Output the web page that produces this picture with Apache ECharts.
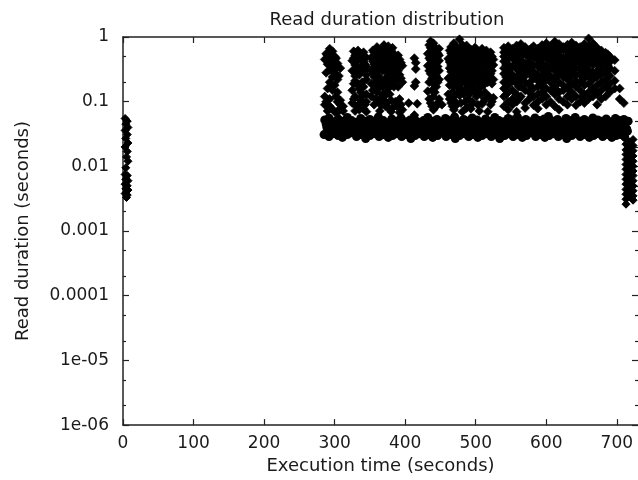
<!DOCTYPE html>
<html>
<head>
<meta charset="utf-8">
<script src="https://cdn.jsdelivr.net/npm/echarts@6/dist/echarts.min.js"></script>
<style>html,body{margin:0;padding:0;background:#fff}#c{width:638px;height:480px}</style>
</head>
<body>
<div id="c"></div>
<script>
// ---- data ----
var titleText = 'Read duration distribution';
var xName = 'Execution time (seconds)';
var yName = 'Read duration (seconds)';
var xTicks = [0, 100, 200, 300, 400, 500, 600, 700];
var yTicks = [1e-6, 1e-5, 1e-4, 1e-3, 1e-2, 1e-1, 1];
var yTickLabels = ['1e-06', '1e-05', '0.0001', '0.001', '0.01', '0.1', '1'];
var yMinorTicks = [2e-6, 5e-6, 2e-5, 5e-5, 2e-4, 5e-4, 2e-3, 5e-3, 2e-2, 5e-2, 0.2, 0.5];

// early strip near t = 0
var leftStrip = [[3,0.055],[6,0.05],[4,0.045],[7,0.04],[3,0.036],[6,0.031],[4,0.027],[7,0.023],[3,0.02],[6,0.017],[5,0.014],[7,0.012],[4,0.0095],[3,0.0075],[6,0.0072],[4,0.0063],[7,0.006],[3,0.0053],[6,0.005],[4,0.0045],[7,0.0043],[3,0.0038],[6,0.0036],[5,0.0033]];

// dense band around 0.03 - 0.06 s
var bandRow1 = [[286,0.052],[292,0.056],[299,0.049],[305,0.054],[311,0.05],[318,0.057],[324,0.051],[330,0.048],[337,0.055],[343,0.05],[350,0.053],[356,0.049],[362,0.058],[369,0.051],[375,0.047],[381,0.054],[388,0.05],[394,0.056],[400,0.049],[407,0.052],[413,0.055],[419,0.048],[426,0.051],[432,0.057],[438,0.05],[445,0.053],[451,0.048],[457,0.055],[464,0.051],[470,0.058],[476,0.049],[483,0.053],[489,0.05],[495,0.056],[502,0.052],[508,0.048],[514,0.054],[521,0.05],[527,0.057],[533,0.051],[540,0.049],[546,0.055],[552,0.052],[559,0.058],[565,0.05],[571,0.053],[578,0.049],[584,0.056],[590,0.051],[597,0.054],[603,0.059],[609,0.05],[616,0.053],[622,0.048],[628,0.055],[635,0.051],[641,0.057],[647,0.05],[654,0.053],[660,0.049],[666,0.056],[673,0.052],[679,0.05],[685,0.054],[692,0.049],[698,0.055],[704,0.051],[710,0.053],[716,0.05]];
var bandRow2 = [[289,0.04],[296,0.038],[302,0.041],[308,0.039],[315,0.042],[321,0.038],[327,0.04],[334,0.037],[340,0.041],[347,0.039],[353,0.04],[359,0.038],[366,0.042],[372,0.039],[378,0.04],[385,0.037],[391,0.041],[397,0.039],[404,0.04],[410,0.038],[416,0.042],[423,0.039],[429,0.04],[435,0.038],[442,0.041],[448,0.039],[454,0.04],[461,0.037],[467,0.041],[473,0.039],[480,0.04],[486,0.038],[492,0.042],[499,0.039],[505,0.04],[511,0.038],[518,0.041],[524,0.039],[530,0.04],[537,0.037],[543,0.041],[549,0.039],[556,0.04],[562,0.038],[568,0.042],[575,0.039],[581,0.04],[587,0.038],[594,0.041],[600,0.039],[606,0.04],[613,0.037],[619,0.041],[625,0.039],[632,0.04],[638,0.038],[644,0.042],[651,0.039],[657,0.04],[663,0.038],[670,0.041],[676,0.039],[682,0.04],[689,0.038],[695,0.041],[701,0.039],[708,0.04],[714,0.038]];
var bandRow3 = [[285,0.031],[292,0.029],[298,0.032],[305,0.03],[311,0.028],[318,0.031],[324,0.033],[331,0.029],[337,0.031],[344,0.027],[350,0.03],[357,0.032],[363,0.029],[369,0.031],[376,0.028],[382,0.03],[388,0.032],[395,0.029],[401,0.031],[408,0.027],[414,0.03],[420,0.032],[427,0.029],[433,0.031],[439,0.028],[446,0.03],[452,0.033],[458,0.029],[465,0.031],[471,0.027],[477,0.03],[484,0.032],[490,0.029],[496,0.031],[503,0.028],[509,0.03],[515,0.032],[522,0.029],[528,0.031],[534,0.027],[541,0.03],[547,0.032],[553,0.029],[560,0.031],[566,0.028],[572,0.03],[579,0.033],[585,0.029],[591,0.031],[598,0.028],[604,0.03],[610,0.032],[617,0.029],[623,0.031],[629,0.027],[636,0.03],[642,0.032],[648,0.029],[655,0.031],[661,0.028],[667,0.03],[674,0.032],[680,0.029],[686,0.031],[693,0.028],[699,0.03],[705,0.031],[711,0.029]];
var bandRow4 = [[288,0.045],[297,0.046],[306,0.044],[315,0.045],[324,0.046],[333,0.044],[342,0.045],[351,0.046],[360,0.044],[369,0.045],[378,0.046],[387,0.044],[396,0.045],[405,0.046],[414,0.044],[423,0.045],[432,0.046],[441,0.044],[450,0.045],[459,0.046],[468,0.044],[477,0.045],[486,0.046],[495,0.044],[504,0.045],[513,0.046],[522,0.044],[531,0.045],[540,0.046],[549,0.044],[558,0.045],[567,0.046],[576,0.044],[585,0.045],[594,0.046],[603,0.044],[612,0.045],[621,0.046],[630,0.044],[639,0.045],[648,0.046],[657,0.044],[666,0.045],[675,0.046],[684,0.044],[693,0.045],[702,0.046],[711,0.044]];
var bandRow5 = [[292,0.035],[301,0.034],[310,0.036],[319,0.035],[328,0.034],[337,0.036],[346,0.035],[355,0.034],[364,0.036],[373,0.035],[382,0.034],[391,0.036],[400,0.035],[409,0.034],[418,0.036],[427,0.035],[436,0.034],[445,0.036],[454,0.035],[463,0.034],[472,0.036],[481,0.035],[490,0.034],[499,0.036],[508,0.035],[517,0.034],[526,0.036],[535,0.035],[544,0.034],[553,0.036],[562,0.035],[571,0.034],[580,0.036],[589,0.035],[598,0.034],[607,0.036],[616,0.035],[625,0.034],[634,0.036],[643,0.035],[652,0.034],[661,0.036],[670,0.035],[679,0.034],[688,0.036],[697,0.035],[706,0.034],[715,0.035]];

// sparser reads above the band, by column: [time, [durations]]
var upperCols = [
 [286,[0.45,0.12,0.09]],[288,[0.55,0.28,0.1]],[290,[0.52,0.38,0.16,0.072]],[293,[0.66,0.44,0.31,0.2,0.11,0.085]],[295,[0.5,0.4,0.17,0.08]],
 [297,[0.6,0.36,0.24,0.15]],[300,[0.5,0.42,0.28,0.18,0.07]],[302,[0.47,0.33,0.12]],[304,[0.39,0.22,0.14,0.1,0.068]],[306,[0.25,0.075]],
 [308,[0.33,0.105,0.09]],[312,[0.085,0.072]],
 [325,[0.43,0.3,0.15,0.095]],[327,[0.6,0.47,0.19,0.11]],[329,[0.52,0.37,0.25,0.21,0.12,0.072]],[331,[0.41,0.29,0.085]],
 [333,[0.62,0.45,0.18,0.088]],[335,[0.55,0.26,0.16,0.075]],[337,[0.5,0.34,0.14,0.105]],[339,[0.45,0.2,0.12]],
 [341,[0.58,0.41,0.29,0.17,0.078]],[343,[0.38,0.3,0.09]],[345,[0.48,0.35,0.26,0.22,0.13,0.1,0.07]],
 [352,[0.48,0.31,0.19,0.12]],[354,[0.62,0.42,0.27,0.15]],[356,[0.58,0.38,0.24,0.09]],[358,[0.5,0.33,0.2,0.11]],
 [360,[0.7,0.46,0.29,0.18,0.14]],[362,[0.64,0.4,0.25,0.16,0.1]],[364,[0.55,0.36,0.22,0.11,0.072]],[366,[0.5,0.32,0.19,0.088]],
 [368,[0.66,0.44,0.3,0.17,0.13]],[370,[0.75,0.48,0.35,0.2,0.12]],[372,[0.57,0.39,0.23,0.135,0.1,0.085]],[374,[0.61,0.43,0.3,0.19,0.095]],
 [376,[0.72,0.47,0.27,0.16,0.08]],[378,[0.56,0.41,0.24,0.13]],[380,[0.63,0.52,0.35,0.21,0.105,0.07]],[382,[0.68,0.46,0.31,0.19,0.08]],
 [384,[0.55,0.42,0.28,0.17]],[386,[0.48,0.37,0.25,0.1]],[388,[0.33,0.22,0.085]],[390,[0.52,0.3,0.17]],
 [392,[0.45,0.26,0.11,0.068]],[394,[0.4,0.23,0.09]],[396,[0.36,0.2,0.075]],
 [405,[0.095]],[413,[0.47,0.175,0.062]],[415,[0.4,0.32,0.2]],[417,[0.093]],
 [432,[0.55,0.36,0.145]],[434,[0.75,0.47,0.3,0.2,0.11]],[436,[0.86,0.68,0.44,0.27,0.095]],[438,[0.58,0.38,0.23,0.15,0.085]],
 [440,[0.8,0.5,0.33,0.19,0.12,0.075]],[442,[0.7,0.45,0.28,0.14]],[444,[0.62,0.4,0.25,0.17,0.085]],[446,[0.56,0.35,0.2,0.095]],
 [448,[0.66,0.52,0.43,0.3,0.22,0.11]],[452,[0.09]],
 [461,[0.46,0.23,0.13]],[463,[0.62,0.41,0.33,0.18,0.11]],[465,[0.7,0.56,0.37,0.29,0.095]],[467,[0.5,0.25,0.14,0.085]],
 [469,[0.8,0.44,0.21,0.17,0.12,0.075]],[471,[0.72,0.6,0.39,0.3,0.19,0.1]],[473,[0.65,0.54,0.35,0.27,0.09]],[475,[0.48,0.32,0.24,0.14]],
 [477,[0.92,0.62,0.42,0.22,0.16,0.125]],[479,[0.68,0.55,0.37,0.26,0.19,0.095]],[481,[0.76,0.5,0.3,0.15,0.07]],[483,[0.6,0.41,0.33,0.23,0.13]],
 [485,[0.68,0.46,0.2,0.1]],[487,[0.74,0.52,0.4,0.25,0.16,0.08]],[489,[0.55,0.36,0.28,0.17,0.11]],[491,[0.6,0.47,0.3,0.2,0.13]],
 [493,[0.64,0.43,0.22,0.078,0.088]],[495,[0.57,0.38,0.29,0.18,0.1]],[497,[0.52,0.33,0.26,0.15]],[499,[0.69,0.45,0.36,0.22,0.14]],
 [501,[0.6,0.4,0.19,0.12]],[503,[0.55,0.43,0.31,0.21,0.09]],[505,[0.5,0.35,0.28,0.16,0.072]],[507,[0.6,0.39,0.25,0.13]],
 [509,[0.66,0.44,0.21,0.092]],[511,[0.49,0.36,0.18,0.1]],[513,[0.54,0.32,0.25,0.14,0.11]],[515,[0.62,0.47,0.29,0.2]],
 [517,[0.41,0.2,0.07]],[519,[0.52,0.38,0.24,0.12]],[521,[0.58,0.34,0.27,0.09]],[523,[0.5,0.3,0.19,0.1]],[525,[0.45,0.37,0.22,0.115]],
 [540,[0.68,0.58,0.5,0.42,0.33,0.27,0.2,0.16,0.12,0.085]],[543,[0.53,0.37,0.24,0.13]],[546,[0.72,0.62,0.46,0.38,0.3,0.23,0.18,0.14,0.1,0.075]],
 [552,[0.66,0.55,0.47,0.35,0.26,0.21,0.15,0.11,0.09]],[558,[0.74,0.6,0.52,0.41,0.32,0.24,0.19,0.13,0.1,0.07]],[561,[0.57,0.35,0.17,0.11]],
 [564,[0.78,0.67,0.5,0.44,0.36,0.28,0.22,0.17,0.12]],[570,[0.7,0.6,0.54,0.39,0.31,0.25,0.2,0.15,0.095,0.08]],
 [576,[0.63,0.47,0.41,0.34,0.27,0.18,0.14,0.11]],[579,[0.67,0.53,0.3,0.21,0.12]],[582,[0.72,0.57,0.49,0.37,0.29,0.23,0.16,0.12,0.088]],
 [588,[0.66,0.52,0.44,0.35,0.26,0.21,0.17,0.13,0.1,0.078]],[594,[0.75,0.61,0.46,0.39,0.31,0.24,0.19,0.14,0.11]],[597,[0.7,0.52,0.34,0.26,0.16]],
 [600,[0.8,0.68,0.55,0.47,0.36,0.28,0.22,0.16,0.12,0.09]],[606,[0.73,0.62,0.5,0.42,0.33,0.25,0.2,0.15,0.1]],
 [612,[0.85,0.66,0.56,0.45,0.38,0.3,0.23,0.17,0.13,0.085]],[615,[0.72,0.49,0.36,0.25,0.15]],[618,[0.78,0.6,0.52,0.41,0.34,0.27,0.2,0.14,0.11,0.075]],
 [624,[0.7,0.64,0.48,0.4,0.31,0.24,0.18,0.15,0.1]],[630,[0.76,0.58,0.5,0.43,0.35,0.28,0.22,0.16,0.12,0.09]],[633,[0.66,0.52,0.39,0.26,0.18]],
 [636,[0.82,0.68,0.55,0.46,0.37,0.3,0.25,0.19,0.14,0.11]],[642,[0.74,0.62,0.51,0.42,0.33,0.26,0.21,0.17,0.12,0.088]],
 [648,[0.7,0.57,0.48,0.39,0.32,0.27,0.2,0.15,0.1]],[651,[0.65,0.45,0.35,0.24,0.12]],[654,[0.78,0.64,0.53,0.44,0.36,0.29,0.23,0.18,0.13,0.095]],
 [660,[0.95,0.72,0.6,0.49,0.4,0.31,0.25,0.19,0.14,0.11]],[666,[0.8,0.66,0.55,0.45,0.37,0.28,0.22,0.16,0.12]],[669,[0.72,0.5,0.41,0.26,0.15]],
 [672,[0.68,0.58,0.47,0.38,0.3,0.24,0.18,0.13,0.09]],[678,[0.62,0.51,0.42,0.34,0.26,0.2,0.15,0.11]],
 [684,[0.57,0.46,0.37,0.29,0.22,0.17,0.12]],[687,[0.54,0.36,0.27,0.16]],[690,[0.5,0.41,0.33,0.25,0.19,0.14]],[697,[0.44,0.3,0.21,0.16]],
 [704,[0.16,0.11]],[710,[0.095]]
];

// late strip near the end of the run
var rightStripCols = [
 [713,[0.026,0.022,0.018,0.0153,0.0128,0.0107,0.009,0.0075,0.0063,0.0053,0.0044,0.0037,0.0031,0.0026]],
 [718,[0.024,0.02,0.0165,0.014,0.0117,0.0098,0.0082,0.0069,0.0058,0.0048,0.004,0.0034]],
 [723,[0.026,0.021,0.0175,0.0145,0.012,0.01,0.0085,0.0072,0.006,0.005,0.0042,0.0035,0.003]]
];

// ---- build series data from the arrays ----
function flatten(cols) {
  var out = [];
  cols.forEach(function (c) { c[1].forEach(function (v) { out.push([c[0], v]); }); });
  return out;
}
var bandData = bandRow1.concat(bandRow2, bandRow3, bandRow4, bandRow5);
var upperData = flatten(upperCols);
var stripData = leftStrip.concat(flatten(rightStripCols));

var FONT = 'DejaVu Sans';
var TXT = '#1a1a1a';
var LINE = { lineStyle: { color: '#222', width: 1.5 } };
var TICK = { color: '#222', width: 1.2 };

function yLabel(v) {
  var i = Math.round(Math.log(v) / Math.LN10) + 6;
  return yTickLabels[i];
}

var chart = echarts.init(document.getElementById('c'), null, { renderer: 'canvas' });
var xBase = { type: 'value', min: 0, max: 730, splitLine: { show: false } };
var yBase = { type: 'log', logBase: 10, min: 1e-6, max: 1, splitLine: { show: false } };

chart.setOption({
  animation: false,
  backgroundColor: '#fff',
  title: {
    text: titleText, left: 382, top: 6, textAlign: 'center',
    textStyle: { fontFamily: FONT, fontSize: 18, fontWeight: 'normal', color: TXT }
  },
  grid: { left: 123, right: -4, top: 37, bottom: 54 },
  xAxis: [
    Object.assign({}, xBase, {
      position: 'bottom',
      name: xName, nameLocation: 'middle', nameGap: 30,
      nameTextStyle: { fontFamily: FONT, fontSize: 18, color: TXT },
      axisLine: LINE,
      axisTick: { inside: true, length: 6, lineStyle: TICK, customValues: xTicks },
      axisLabel: { customValues: xTicks, margin: 10, fontFamily: FONT, fontSize: 17, color: TXT }
    }),
    Object.assign({}, xBase, {
      position: 'top',
      axisLine: LINE,
      axisTick: { inside: true, length: 6, lineStyle: TICK, customValues: xTicks },
      axisLabel: { show: false }
    })
  ],
  yAxis: [
    Object.assign({}, yBase, {
      position: 'left',
      name: yName, nameLocation: 'middle', nameGap: 91,
      nameTextStyle: { fontFamily: FONT, fontSize: 18, color: TXT },
      axisLine: LINE,
      axisTick: { inside: true, length: 6, lineStyle: TICK, customValues: yTicks },
      axisLabel: { customValues: yTicks, formatter: yLabel, margin: 14, fontFamily: FONT, fontSize: 17, color: TXT }
    }),
    Object.assign({}, yBase, {
      position: 'left',
      axisLine: { show: false },
      axisTick: { inside: true, length: 3, lineStyle: TICK, customValues: yMinorTicks },
      axisLabel: { show: false }
    }),
    Object.assign({}, yBase, {
      position: 'right',
      axisLine: { show: false },
      axisTick: { inside: true, length: 6, lineStyle: TICK, customValues: yTicks },
      axisLabel: { show: false }
    }),
    Object.assign({}, yBase, {
      position: 'right',
      axisLine: { show: false },
      axisTick: { inside: true, length: 3, lineStyle: TICK, customValues: yMinorTicks },
      axisLabel: { show: false }
    })
  ],
  series: [
    {
      type: 'scatter', xAxisIndex: 0, yAxisIndex: 0, data: bandData,
      symbol: 'circle', symbolSize: 9, itemStyle: { color: '#000', opacity: 1 }, silent: true
    },
    {
      type: 'scatter', xAxisIndex: 0, yAxisIndex: 0, data: upperData,
      symbol: 'diamond', symbolSize: 9,
      itemStyle: { color: '#000', borderColor: '#000', borderWidth: 0.6, opacity: 1 }, silent: true
    },
    {
      type: 'scatter', xAxisIndex: 0, yAxisIndex: 0, data: stripData,
      symbol: 'diamond', symbolSize: 8,
      itemStyle: { color: '#000', borderColor: '#000', borderWidth: 1, opacity: 1 }, silent: true
    }
  ]
});
</script>
</body>
</html>
